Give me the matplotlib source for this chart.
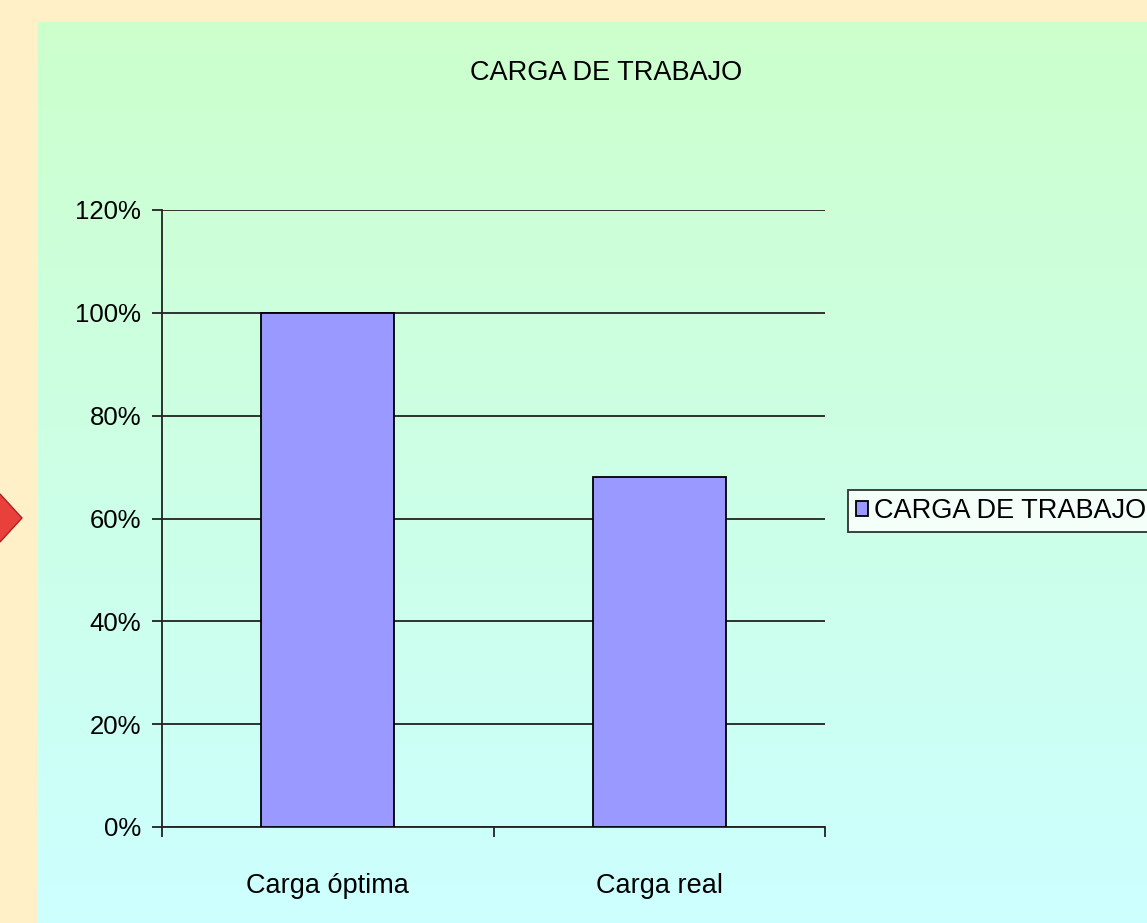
import numpy as np
import matplotlib
matplotlib.use("Agg")
import matplotlib.pyplot as plt
from matplotlib.patches import Polygon
from matplotlib.ticker import PercentFormatter

# data
categories = ["Carga óptima", "Carga real"]
values = [100, 68]
series_name = "CARGA DE TRABAJO"
y_ticks = [0, 20, 40, 60, 80, 100, 120]

W, H = 1147, 923
plt.rcParams["font.family"] = ["Liberation Sans", "DejaVu Sans"]

fig = plt.figure(figsize=(W / 100, H / 100), dpi=100)
fig.patch.set_facecolor("#FFF0C8")

# gradient panel (green at the top, cyan at the bottom)
bg = fig.add_axes([38 / W, 0, 1 - 38 / W, 1 - 22 / H])
bg.set_axis_off()
grad = np.linspace(0, 1, 256).reshape(-1, 1)
top = np.array([0.80, 1.0, 0.80])
bottom = np.array([0.80, 1.0, 1.0])
img = top + (bottom - top) * grad[:, :, None]
bg.imshow(img, aspect="auto", extent=[0, 1, 0, 1])

# red diamond on the left edge, half hidden
deco = fig.add_axes([0, 0, 1, 1], facecolor="none")
deco.set_axis_off()
deco.set_xlim(0, W)
deco.set_ylim(H, 0)
deco.add_patch(Polygon([[-25, 518], [0, 494], [22, 518], [0, 542]],
                       closed=True, facecolor="#E8403A", edgecolor="#B02020", lw=1))

# main chart
ax = fig.add_axes([162 / W, 1 - 827 / H, (825 - 162) / W, (827 - 210) / H])
ax.set_facecolor("none")
x = np.arange(len(categories))
bars = ax.bar(x, values, width=0.4, color="#9999FF", edgecolor="black",
              linewidth=1.3, label=series_name, zorder=3)
ax.set_xlim(-0.5, len(categories) - 0.5)
ax.set_ylim(0, 120)
ax.set_yticks(y_ticks)
ax.yaxis.set_major_formatter(PercentFormatter(decimals=0))
ax.yaxis.grid(True, color="#222222", linewidth=1.3, zorder=0)
ax.set_xticks(x)
ax.set_xticklabels(categories, fontsize=19.5)
ax.set_xticks(np.arange(len(categories) + 1) - 0.5, minor=True)
ax.tick_params(axis="x", which="major", length=0, pad=33)
ax.tick_params(axis="x", which="minor", length=7, width=1.3, color="#222222")
ax.tick_params(axis="y", length=7, width=1.3, color="#222222", labelsize=18.5, pad=8)
for side in ["top", "right"]:
    ax.spines[side].set_visible(False)
for side in ["left", "bottom"]:
    ax.spines[side].set_color("#222222")
    ax.spines[side].set_linewidth(1.3)

fig.text(606 / W, 1 - 73 / H, "CARGA DE TRABAJO", ha="center", va="center", fontsize=19.5)

leg = fig.legend(handles=[bars], labels=[series_name], loc="center left",
                 bbox_to_anchor=(848 / W, 1 - 511 / H), fontsize=19.5,
                 frameon=True, fancybox=False, edgecolor="black",
                 handlelength=0.45, handleheight=0.45, handletextpad=0.2,
                 borderpad=0.3, borderaxespad=0)
leg.get_frame().set_linewidth(1.3)
leg.get_frame().set_facecolor("white")

fig.savefig("out.png", dpi=100)
